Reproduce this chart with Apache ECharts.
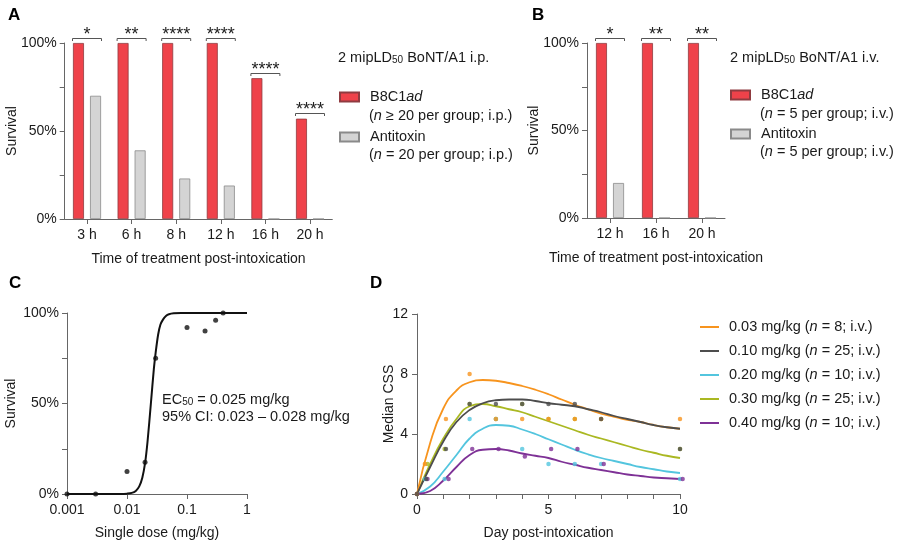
<!DOCTYPE html>
<html><head><meta charset="utf-8">
<script src="https://cdn.jsdelivr.net/npm/echarts@6/dist/echarts.min.js"></script>
<style>html,body{margin:0;padding:0;background:#fff}#c{width:900px;height:546px}</style>
</head><body><div id="c"></div>
<script>
const FONT = '"Liberation Sans", Arial, Helvetica, sans-serif';
// ---------- Panel A ----------
const catsA = ['3 h','6 h','8 h','12 h','16 h','20 h'];
const b8c1A = [100,100,100,100,80,57];
const antiA = [70,39,23,19,0,0];
const sigA  = ['*','**','****','****','****','****'];
// ---------- Panel B ----------
const catsB = ['12 h','16 h','20 h'];
const b8c1B = [100,100,100];
const antiB = [20,0,0];
const sigB  = ['*','**','**'];
// percent tick labels
const pctLabels = {0:'0%',50:'50%',100:'100%'};
// ---------- Panel C ----------
const doseC = [0.001,0.003,0.01,0.02,0.03,0.1,0.2,0.3,0.4];
const survC = [0,0,12.5,17.5,75,92,90,96,100];
const fitDoseC = [0.001,0.005,0.008,0.01,0.012,0.014,0.016,0.018,0.02,0.022,0.025,0.028,0.03,0.033,0.036,0.04,0.045,0.05,0.06,0.08,0.1,0.3,1];
const fitSurvC = [0,0,0,0.2,0.6,1.7,4.2,9,17,29,50,69,78,88,93.5,96.5,98.5,99.3,99.8,100,100,100,100];
const logLabelsC = ['0.001','0.01','0.1','1'];
// ---------- Panel D ----------
const doseNames = ['0.03 mg/kg','0.10 mg/kg','0.20 mg/kg','0.30 mg/kg','0.40 mg/kg'];
const doseN = ['8','25','10','25','10'];
const daysFit = [0,0.5,1,1.5,2,2.5,3,3.5,4,4.5,5,5.5,6,6.5,7,7.5,8,8.5,9,9.5,10];
const fit003 = [0,3.4,5.7,6.9,7.45,7.6,7.55,7.4,7.2,6.95,6.65,6.3,5.95,5.65,5.35,5.15,4.95,4.8,4.6,4.45,4.35];
const fit010 = [0,1.8,3.5,4.8,5.6,6.05,6.25,6.3,6.3,6.2,6.05,5.95,5.85,5.65,5.45,5.2,5.0,4.8,4.6,4.45,4.35];
const fit020 = [0,0.5,1.5,2.6,3.7,4.35,4.6,4.55,4.3,4.0,3.65,3.3,2.95,2.65,2.4,2.2,2.0,1.8,1.65,1.5,1.4];
const fit030 = [0,2.0,3.7,5.0,5.85,6.0,5.85,5.65,5.45,5.15,4.85,4.55,4.25,3.95,3.7,3.45,3.2,2.95,2.75,2.55,2.4];
const fit040 = [0,0.2,0.9,1.8,2.6,2.95,3.0,2.9,2.7,2.55,2.4,2.15,1.95,1.75,1.6,1.45,1.3,1.2,1.1,1.05,1.0];
const day003 = [0,0.3,1.1,2,3,4,5,6,7,10];
const val003 = [0,2,5,8,5,5,5,5,5,5];
const day010 = [0,0.35,1.1,2,3,4,5,6,7,10];
const val010 = [0,1,3,6,6,6,6,6,5,3];
const day020 = [0,0.3,1.05,2,3,4,5,6,7,10];
const val020 = [0,1,1,5,5,3,2,2,2,1];
const day030 = [0,0.4,1.05,2,3,4,5,6,7,10];
const val030 = [0,2,3,6,5,6,5,5,5,3];
const day040 = [0,0.4,1.2,2.1,3.1,4.1,5.1,6.1,7.1,10.1];
const val040 = [0,1,1,3,3,2.5,3,3,2,1];
const colorsD = ['#F7941E','#4D4D4D','#53C5DE','#AAB822','#7E3196'];

const AX = '#666', TX = '#1a1a1a';
const RED = '#EF424A', REDB = '#8F3B40', GRY = '#D4D4D4', GRYB = '#8A8A8A';
const tStyle = {fontSize:14, color:TX, fontFamily:FONT};
const nStyle = {fontSize:14, color:TX, fontFamily:FONT};

function pctY(gi, gap){
  return {type:'value', gridIndex:gi, min:0, max:100, interval:25,
    name:'Survival', nameLocation:'middle', nameGap:gap, nameRotate:90, nameTextStyle:nStyle, nameMoveOverlap:false,
    axisLine:{show:true, lineStyle:{color:AX, width:1}},
    axisTick:{show:true, length:5, lineStyle:{color:AX}},
    axisLabel:Object.assign({margin:8, formatter:v => pctLabels[v] || ''}, tStyle),
    splitLine:{show:false}};
}
function catX(gi, cats){
  return {type:'category', gridIndex:gi, data:cats,
    name:'Time of treatment post-intoxication', nameLocation:'middle', nameGap:33, nameTextStyle:nStyle, nameMoveOverlap:false,
    axisLine:{show:true, lineStyle:{color:AX, width:1}},
    axisTick:{show:true, alignWithLabel:true, length:5, lineStyle:{color:AX}},
    axisLabel:Object.assign({margin:9}, tStyle), splitLine:{show:false}};
}
function bars(gi, a, b){
  return [
    {type:'bar', name:'B8C1ad', xAxisIndex:gi, yAxisIndex:gi, data:a, barWidth:11, barGap:'55%',
     itemStyle:{color:RED, borderColor:REDB, borderWidth:0.8}},
    {type:'bar', name:'Antitoxin', xAxisIndex:gi, yAxisIndex:gi, data:b, barWidth:11, barGap:'55%',
     itemStyle:{color:GRY, borderColor:GRYB, borderWidth:0.8}}
  ];
}
function sig(gi, cats, a, b, s){
  return {type:'custom', xAxisIndex:gi, yAxisIndex:gi, silent:true, z:5, clip:false,
    data: cats.map((c,i) => [i, Math.max(a[i], b[i])]),
    renderItem(params, api){
      const p = api.coord([api.value(0), api.value(1)]);
      const x0 = p[0]-14.5, x1 = p[0]+14.5, y = Math.round(p[1]-5.5)+0.5;
      return {type:'group', children:[
        {type:'polyline', shape:{points:[[x0,y+2.5],[x0,y],[x1,y],[x1,y+2.5]]},
         style:{stroke:'#555', lineWidth:1, fill:null}},
        {type:'text', x:p[0], y:y-3, style:{text:s[params.dataIndex], fill:'#222',
         font:'18px ' + FONT, align:'center', verticalAlign:'middle'}}
      ]};
    }};
}
const richBase = {
  it:{fontStyle:'italic', fontSize:14.5, fontFamily:FONT, color:TX},
  sub:{fontSize:10, fontFamily:FONT, color:TX, verticalAlign:'bottom', lineHeight:11}
};
function gtext(x, y, text, extra){
  return Object.assign({type:'text', x:x, y:y, silent:true,
    style:{text:text, fill:TX, font:'14.5px ' + FONT, verticalAlign:'middle', align:'left',
      rich:{it:{fontStyle:'italic', fontSize:14.5, fontFamily:FONT, fill:TX},
            sub:{fontSize:10, fontFamily:FONT, fill:TX, verticalAlign:'bottom', lineHeight:9},
            n:{fontSize:14.5, fontFamily:FONT, fill:TX, lineHeight:16}}}}, extra || {});
}
function letter(x, y, t){
  return {type:'text', x:x, y:y, silent:true, style:{text:t, fill:'#000', font:'bold 17px ' + FONT, verticalAlign:'middle'}};
}

const seriesD = [];
const fits = [fit003, fit010, fit020, fit030, fit040];
const dayP = [day003, day010, day020, day030, day040];
const valP = [val003, val010, val020, val030, val040];
[3,2,4,0,1].forEach(k => {
  seriesD.push({type:'line', name:doseNames[k], xAxisIndex:3, yAxisIndex:3, smooth:0.5,
    showSymbol:false, symbol:'none', color:colorsD[k], lineStyle:{width:1.8, color:colorsD[k]},
    data: daysFit.map((d,i) => [d, fits[k][i]]), z:2});
});
[3,2,4,0,1].forEach(k => {
  seriesD.push({type:'scatter', name:'pts ' + doseNames[k], xAxisIndex:3, yAxisIndex:3, symbolSize:4.5, clip:false,
    itemStyle:{color:colorsD[k]}, data: dayP[k].map((d,i) => [d, valP[k][i]]), z:3});
});

const legText = (pad) => ({fontSize:14.5, fontFamily:FONT, color:TX, lineHeight:16, padding:[0,0,0,pad], rich:richBase});
const option = {
  animation:false,
  backgroundColor:'#fff',
  textStyle:{fontFamily:FONT},
  grid:[
    {left:64.7, top:43, width:267.6, height:176, containLabel:false, outerBoundsMode:'none'},
    {left:587, top:43, width:138, height:175, containLabel:false, outerBoundsMode:'none'},
    {left:67, top:313, width:180, height:181, containLabel:false, outerBoundsMode:'none'},
    {left:417, top:314, width:263, height:180, containLabel:false, outerBoundsMode:'none'}
  ],
  xAxis:[
    catX(0, catsA), catX(1, catsB),
    {type:'log', gridIndex:2, logBase:10, min:0.001, max:1,
      name:'Single dose (mg/kg)', nameLocation:'middle', nameGap:32, nameTextStyle:nStyle, nameMoveOverlap:false,
      axisLine:{show:true, lineStyle:{color:AX}}, axisTick:{show:true, length:5, lineStyle:{color:AX}},
      minorTick:{show:false},
      axisLabel:Object.assign({margin:9, formatter:v => logLabelsC[Math.round(Math.log10(v))+3]}, tStyle),
      splitLine:{show:false}},
    {type:'value', gridIndex:3, min:0, max:10, interval:1,
      name:'Day post-intoxication', nameLocation:'middle', nameGap:32, nameTextStyle:nStyle, nameMoveOverlap:false,
      axisLine:{show:true, lineStyle:{color:AX}}, axisTick:{show:true, length:5, lineStyle:{color:AX}},
      axisLabel:Object.assign({margin:9, formatter:v => (v % 5 === 0 ? String(v) : '')}, tStyle),
      splitLine:{show:false}}
  ],
  yAxis:[
    pctY(0, 46), pctY(1, 46), pctY(2, 49),
    {type:'value', gridIndex:3, min:0, max:12, interval:4,
      name:'Median CSS', nameLocation:'middle', nameGap:21, nameRotate:90, nameTextStyle:nStyle, nameMoveOverlap:false,
      axisLine:{show:true, lineStyle:{color:AX}}, axisTick:{show:true, length:5, lineStyle:{color:AX}},
      axisLabel:Object.assign({margin:9}, tStyle), splitLine:{show:false}}
  ],
  legend:[
    {left:339, top:89, padding:0, orient:'vertical', icon:'rect', itemWidth:19, itemHeight:9, itemGap:24, selectedMode:false,
     data:['B8C1ad','Antitoxin'],
     formatter:n => n === 'B8C1ad' ? 'B8C1{it|ad}' : n, textStyle:legText(6)},
    {left:730, top:87, padding:0, orient:'vertical', icon:'rect', itemWidth:19, itemHeight:9, itemGap:23, selectedMode:false,
     data:['B8C1ad','Antitoxin'],
     formatter:n => n === 'B8C1ad' ? 'B8C1{it|ad}' : n, textStyle:legText(6)},
    {left:700, top:319, padding:0, orient:'vertical', itemWidth:19, itemHeight:2, itemGap:8, icon:'rect', selectedMode:false,
     data:doseNames,
     formatter:n => { const i = doseNames.indexOf(n); return n + ' ({it|n} = ' + doseN[i] + '; i.v.)'; },
     textStyle:legText(5)}
  ],
  series:[
    ...bars(0, b8c1A, antiA), sig(0, catsA, b8c1A, antiA, sigA),
    ...bars(1, b8c1B, antiB), sig(1, catsB, b8c1B, antiB, sigB),
    {type:'line', name:'fitC', xAxisIndex:2, yAxisIndex:2, smooth:0.3, showSymbol:false, symbol:'none',
     lineStyle:{width:2, color:'#111'}, color:'#111', data:fitDoseC.map((d,i) => [d, fitSurvC[i]]), z:2},
    {type:'scatter', name:'ptsC', xAxisIndex:2, yAxisIndex:2, symbolSize:5, clip:false,
     itemStyle:{color:'#111'}, data:doseC.map((d,i) => [d, survC[i]]), z:3},
    ...seriesD
  ],
  graphic:[
    letter(8, 15, 'A'), letter(532, 15, 'B'), letter(9, 283, 'C'), letter(370, 283, 'D'),
    gtext(338, 58, '2 mipLD{sub|50} BoNT/A1 i.p.'),
    gtext(369, 116, '({it|n} ≥ 20 per group; i.p.)'),
    gtext(369, 155, '({it|n} = 20 per group; i.p.)'),
    gtext(730, 58, '2 mipLD{sub|50} BoNT/A1 i.v.'),
    gtext(760, 114, '({it|n} = 5 per group; i.v.)'),
    gtext(760, 152, '({it|n} = 5 per group; i.v.)'),
    gtext(162, 400, 'EC{sub|50} = 0.025 mg/kg'),
    gtext(162, 417, '95% CI: 0.023 – 0.028 mg/kg')
  ]
};
const chart = echarts.init(document.getElementById('c'));
chart.setOption(option);
</script></body></html>
